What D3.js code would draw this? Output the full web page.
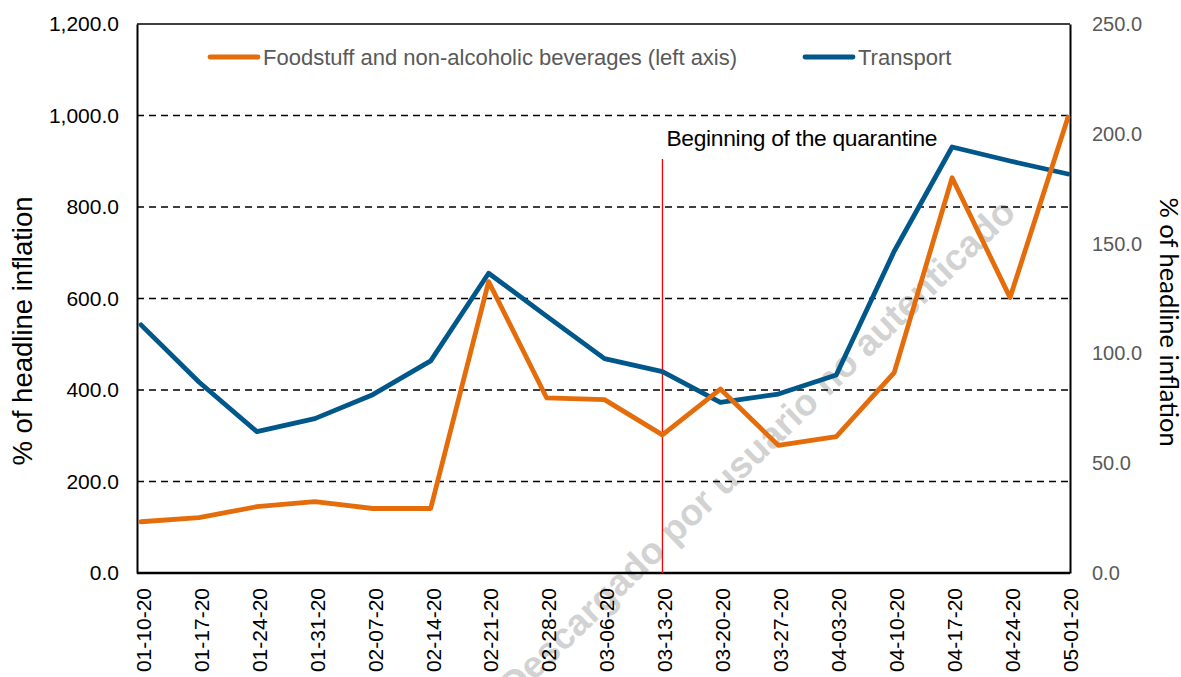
<!DOCTYPE html>
<html>
<head>
<meta charset="utf-8">
<script src="https://cdn.jsdelivr.net/npm/d3@7"></script>
<style>
  body { margin: 0; background: #fff; }
  svg { display: block; font-family: "Liberation Sans", Arial, sans-serif; }
</style>
</head>
<body>
<svg id="chart" width="1181" height="677"></svg>
<script>
const dates = [
  "01-10-20", "01-17-20", "01-24-20", "01-31-20", "02-07-20", "02-14-20",
  "02-21-20", "02-28-20", "03-06-20", "03-13-20", "03-20-20", "03-27-20",
  "04-03-20", "04-10-20", "04-17-20", "04-24-20", "05-01-20"
];
const foodstuff = [112, 121, 145, 156, 141, 141, 637, 383, 379, 302, 402, 279, 298, 438, 864, 602, 996];
const transport = [113, 87, 64.4, 70.3, 81.2, 96.6, 136.5, 117, 97.6, 91.7, 77.7, 81.5, 90.2, 146.5, 194, 187.6, 181.7];
const leftTicks = [0, 200, 400, 600, 800, 1000, 1200];
const rightTicks = [0, 50, 100, 150, 200, 250];
const quarantineDate = "03-13-20";

const orange = "#E46C0A";
const blue = "#00578A";

const svg = d3.select("#chart");
const plot = { left: 137, right: 1070, top: 24, bottom: 573 };

const x = d3.scalePoint().domain(dates).range([141, 1068]);
const yLeft = d3.scaleLinear().domain([0, 1200]).range([plot.bottom, plot.top]);
const yRight = d3.scaleLinear().domain([0, 250]).range([plot.bottom, plot.top]);
const fmt = d3.format(",.1f");

// watermark (behind everything)
svg.append("text")
  .attr("transform", "translate(757,448) rotate(-44)")
  .attr("text-anchor", "middle")
  .attr("dy", "0.35em")
  .attr("font-size", 37)
  .attr("font-weight", "bold")
  .attr("fill", "#d2d2d2")
  .text("Descargado por usuario no autenticado");

// gridlines
svg.append("g")
  .selectAll("line")
  .data(leftTicks.filter((d) => d > 0 && d < 1200))
  .join("line")
  .attr("x1", plot.left)
  .attr("x2", plot.right)
  .attr("y1", (d) => yLeft(d))
  .attr("y2", (d) => yLeft(d))
  .attr("stroke", "#000")
  .attr("stroke-width", 1.4)
  .attr("stroke-dasharray", "7,5");

svg.append("line")
  .attr("x1", plot.left).attr("x2", plot.right)
  .attr("y1", yLeft(1200)).attr("y2", yLeft(1200))
  .attr("stroke", "#000").attr("stroke-width", 1.4);

// left axis
const gLeft = svg.append("g")
  .attr("transform", `translate(${plot.left},0)`)
  .call(d3.axisLeft(yLeft).tickValues(leftTicks).tickFormat(fmt).tickSize(0).tickPadding(18));
gLeft.select(".domain").attr("stroke", "#000").attr("stroke-width", 2);
gLeft.selectAll("text").attr("font-size", 21).attr("fill", "#000")
  .attr("font-family", "Liberation Sans, Arial, sans-serif");

// right axis
const gRight = svg.append("g")
  .attr("transform", `translate(${plot.right},0)`)
  .call(d3.axisRight(yRight).tickValues(rightTicks).tickFormat(fmt).tickSize(0).tickPadding(22));
gRight.select(".domain").attr("stroke", "#000").attr("stroke-width", 2);
gRight.selectAll("text").attr("font-size", 20).attr("fill", "#595959")
  .attr("font-family", "Liberation Sans, Arial, sans-serif");

// bottom axis
const gBottom = svg.append("g")
  .attr("transform", `translate(0,${plot.bottom})`)
  .call(d3.axisBottom(x).tickSize(0));
gBottom.select(".domain").attr("d", `M${plot.left},0H${plot.right}`)
  .attr("stroke", "#000").attr("stroke-width", 2.5);
gBottom.selectAll("text")
  .attr("font-size", 21)
  .attr("fill", "#000")
  .attr("font-family", "Liberation Sans, Arial, sans-serif")
  .attr("text-anchor", "end")
  .attr("transform", "rotate(-90)")
  .attr("x", -15)
  .attr("y", 2)
  .attr("dy", "0.35em");

// axis titles
svg.append("text")
  .attr("transform", `translate(32,331) rotate(-90)`)
  .attr("text-anchor", "middle")
  .attr("font-size", 27.5)
  .text("% of headline inflation");

svg.append("text")
  .attr("transform", `translate(1160,322) rotate(90)`)
  .attr("text-anchor", "middle")
  .attr("font-family", "Lato, sans-serif")
  .attr("font-size", 25.5)
  .text("% of headline inflation");

// quarantine marker
svg.append("line")
  .attr("x1", x(quarantineDate)).attr("x2", x(quarantineDate))
  .attr("y1", 159).attr("y2", plot.bottom)
  .attr("stroke", "#FF0000").attr("stroke-width", 1.3);

svg.append("text")
  .attr("x", x(quarantineDate) + 4)
  .attr("y", 146)
  .attr("font-size", 22.8)
  .attr("letter-spacing", -0.3)
  .text("Beginning of the quarantine");

// series
const lineLeft = d3.line().x((d, i) => x(dates[i])).y((d) => yLeft(d));
const lineRight = d3.line().x((d, i) => x(dates[i])).y((d) => yRight(d));

svg.append("path")
  .datum(transport)
  .attr("fill", "none")
  .attr("stroke", blue)
  .attr("stroke-width", 4.8)
  .attr("stroke-linejoin", "round")
  .attr("stroke-linecap", "round")
  .attr("d", lineRight);

svg.append("path")
  .datum(foodstuff)
  .attr("fill", "none")
  .attr("stroke", orange)
  .attr("stroke-width", 4.8)
  .attr("stroke-linejoin", "round")
  .attr("stroke-linecap", "round")
  .attr("d", lineLeft);

// legend
const legend = [
  { label: "Foodstuff and non-alcoholic beverages (left axis)", color: orange, x: 210 },
  { label: "Transport", color: blue, x: 805 }
];
const lg = svg.append("g").selectAll("g").data(legend).join("g")
  .attr("transform", (d) => `translate(${d.x},57)`);
lg.append("line")
  .attr("x1", 0).attr("x2", 48)
  .attr("stroke", (d) => d.color)
  .attr("stroke-width", 4.8)
  .attr("stroke-linecap", "round");
lg.append("text")
  .attr("x", 53)
  .attr("dy", "0.35em")
  .attr("font-size", 22)
  .attr("fill", "#595959")
  .text((d) => d.label);
</script>
</body>
</html>
